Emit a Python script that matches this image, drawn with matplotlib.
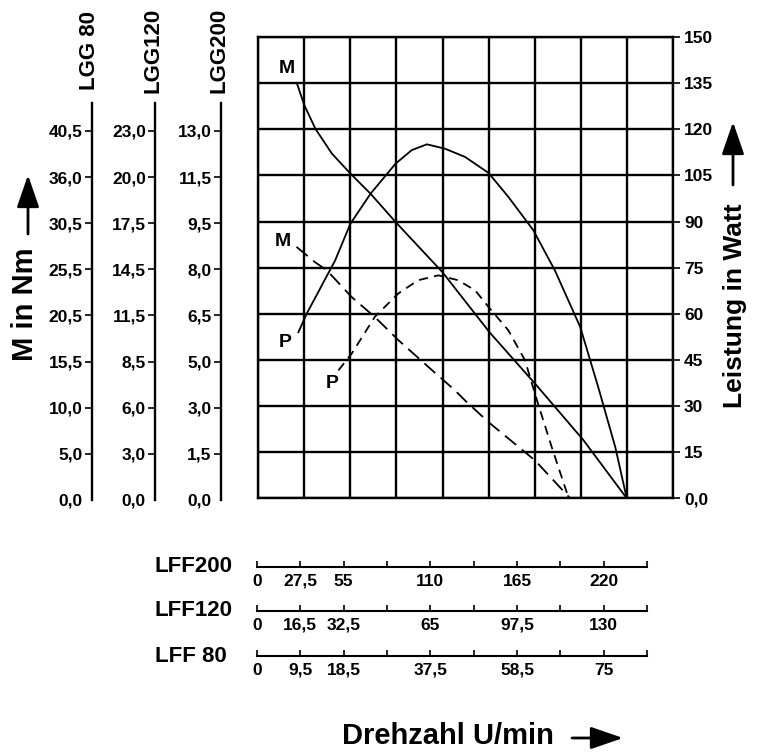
import matplotlib.pyplot as plt

plt.rcParams['font.family'] = ['Liberation Sans', 'DejaVu Sans']

# speed in grid divisions (one division = 27,5 U/min on the LFF200 scale)
# torque curves in divisions of the left scales, power curves in Watt
m_full_x = [0.84, 1.0, 1.24, 1.6, 2.0, 2.44, 2.98, 4.0, 5.02, 6.04, 7.06, 8.0]
m_full = [8.99, 8.52, 8.01, 7.47, 7.04, 6.6, 5.99, 4.9, 3.6, 2.45, 1.26, 0.0]

p_full_x = [0.87, 1.05, 1.67, 2.0, 2.44, 2.98, 3.33, 3.66, 4.05, 4.49, 5.0, 5.43,
            5.97, 6.44, 6.99, 7.38, 7.75, 8.0]
p_full = [54, 60, 77.4, 89.3, 99.1, 108.8, 113.2, 115.1, 113.7, 111, 105.8, 98,
          87.2, 74.1, 55.7, 36.2, 16.7, 0]

m_half_x = [0.83, 1.23, 1.49, 2.03, 2.53, 3.04, 3.69, 4.27, 4.49, 5.0, 6.01, 6.77]
m_half = [5.45, 5.12, 4.94, 4.36, 3.93, 3.43, 2.85, 2.34, 2.12, 1.65, 0.82, 0.0]

p_half_x = [1.74, 2.03, 2.53, 3.04, 3.47, 3.91, 4.34, 4.71, 5.0, 5.43, 5.79, 6.05,
            6.37, 6.74]
p_half = [41.6, 47.1, 59, 66.6, 70.9, 72.5, 70.9, 67.6, 62.2, 54.6, 44.9, 31.9,
          16.7, 0]

power_ticks = [0, 15, 30, 45, 60, 75, 90, 105, 120, 135, 150]
power_labels = ['0,0', '15', '30', '45', '60', '75', '90', '105', '120', '135', '150']

lgg_names = ['LGG 80', 'LGG120', 'LGG200']
lgg_labels = [
    ['0,0', '5,0', '10,0', '15,5', '20,5', '25,5', '30,5', '36,0', '40,5'],
    ['0,0', '3,0', '6,0', '8,5', '11,5', '14,5', '17,5', '20,0', '23,0'],
    ['0,0', '1,5', '3,0', '5,0', '6,5', '8,0', '9,5', '11,5', '13,0'],
]

lff_names = ['LFF200', 'LFF120', 'LFF 80']
lff_labels = [
    ['0', '27,5', '55', '110', '165', '220'],
    ['0', '16,5', '32,5', '65', '97,5', '130'],
    ['0', '9,5', '18,5', '37,5', '58,5', '75'],
]
lff_label_pos = [0, 1, 2, 4, 6, 8]

W, H = 758, 754
fig = plt.figure(figsize=(W / 100, H / 100), dpi=100)


def fx(px):
    return px / W


def fy(py):
    return 1 - py / H


# main chart
ax = fig.add_axes([fx(258.3), fy(498.3), 414.5 / W, 461.3 / H])
ax2 = ax.twinx()
ax2.set_ylim(0, 10)
ax2.axis('off')

ax.set_xlim(0, 9)
ax.set_ylim(0, 150)
ax.set_xticks(range(10))
ax.set_yticks(power_ticks)
ax.set_yticklabels(power_labels)
ax.grid(True, color='black', lw=1.7)
for s in ax.spines.values():
    s.set_linewidth(1.7)
ax.tick_params(axis='x', bottom=False, labelbottom=False)
ax.yaxis.tick_right()
ax.tick_params(axis='y', direction='inout', length=10, width=1.2, pad=3, labelsize=12.5)
for lbl in ax.get_yticklabels():
    lbl.set_fontweight('bold')

ax.plot(p_full_x, p_full, color='black', lw=1.3)
ax2.plot(m_full_x, m_full, color='black', lw=1.3)
ax2.plot(m_half_x, m_half, color='black', lw=1.3, dashes=(8, 4))
ax.plot(p_half_x, p_half, color='black', lw=1.3, dashes=(5, 3.5))

for x, y, t in [(0.62, 139.7, 'M'), (0.54, 83.4, 'M'), (0.58, 50.8, 'P'), (1.6, 37.3, 'P')]:
    ax.text(x, y, t, ha='center', va='center', fontsize=14, weight='bold')

# left torque scales
for xpos, name, labels in zip([91.7, 155, 220.7], lgg_names, lgg_labels):
    lax = fig.add_axes([fx(xpos), fy(500), 0.0001, 461.3 / H])
    lax.set_ylim(0, 10)
    lax.patch.set_visible(False)
    for k in ['top', 'bottom', 'right']:
        lax.spines[k].set_visible(False)
    lax.spines['left'].set_linewidth(1.7)
    lax.spines['left'].set_bounds(0, 8.6)
    lax.set_xticks([])
    lax.set_yticks(range(9))
    lax.set_yticklabels(labels, fontweight='bold')
    lax.tick_params(axis='y', length=5, width=1.2, pad=1.5, labelsize=12.5)
    lax.yaxis.get_major_ticks()[0].tick1line.set_visible(False)
    lax.set_yticks([0], minor=True)
    lax.tick_params(axis='y', which='minor', left=False, right=True, length=6, width=1.5)
    fig.text(fx(xpos - 2), fy(50), name, rotation=90, ha='center', va='center',
             fontsize=16, weight='bold')

# bottom speed scales
for ypos, name, labels in zip([567, 611, 656], lff_names, lff_labels):
    bax = fig.add_axes([fx(257), fy(ypos), 390 / W, 0.0001])
    bax.set_xlim(0, 9)
    bax.patch.set_visible(False)
    for k in ['top', 'left', 'right']:
        bax.spines[k].set_visible(False)
    bax.spines['bottom'].set_linewidth(1.5)
    bax.set_yticks([])
    bax.set_xticks(range(10))
    tl = [''] * 10
    for p, l in zip(lff_label_pos, labels):
        tl[p] = l
    bax.set_xticklabels(tl, fontweight='bold')
    bax.tick_params(axis='x', direction='in', length=4, width=1.2, pad=5, labelsize=12.5)
    fig.text(fx(155), fy(ypos), name, ha='left', va='center', fontsize=16, weight='bold')

# axis titles with arrows
fig.text(fx(25), fy(304), 'M in Nm', rotation=90, ha='center', va='center',
         fontsize=21, weight='bold')
fig.text(fx(735), fy(306), 'Leistung in Watt', rotation=90, ha='center', va='center',
         fontsize=19, weight='bold')
fig.text(fx(342), fy(736), 'Drehzahl U/min', ha='left', va='center',
         fontsize=21, weight='bold')

arrow = dict(arrowstyle='-|>,head_length=1.1,head_width=0.38', color='black', lw=2,
             mutation_scale=18, shrinkA=0, shrinkB=0)
for start, end in [((28, 234), (28, 175)), ((733, 185), (733, 122)), ((572, 738), (623, 738))]:
    ax.annotate('', xy=(fx(end[0]), fy(end[1])), xytext=(fx(start[0]), fy(start[1])),
                xycoords='figure fraction', textcoords='figure fraction',
                arrowprops=arrow, annotation_clip=False)

fig.savefig('out.png', dpi=100)
